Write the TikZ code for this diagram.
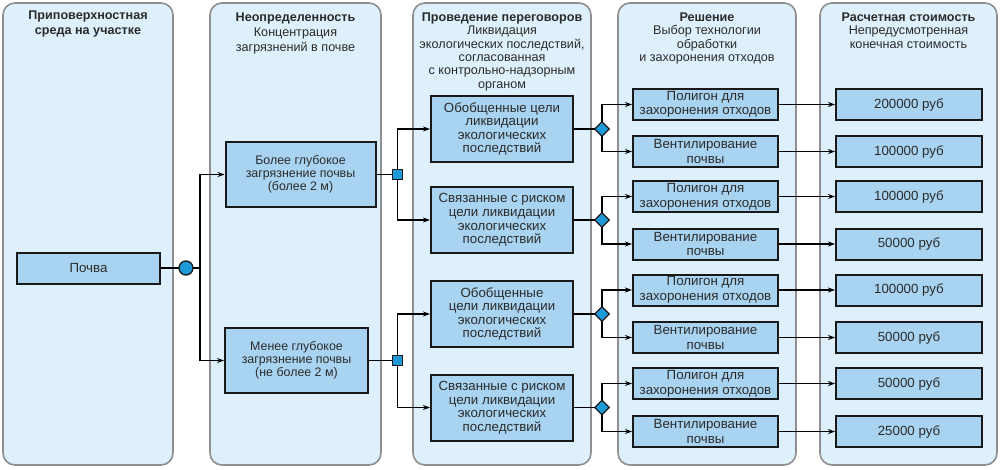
\documentclass[tikz,border=0pt]{standalone}
\usepackage{fontspec}
\setmainfont{Liberation Sans}
\usetikzlibrary{arrows.meta,shapes.geometric}

\definecolor{panelfill}{HTML}{DDF0FB}
\definecolor{panelline}{HTML}{8F8F8F}
\definecolor{boxfill}{HTML}{A9D4F1}
\definecolor{markfill}{HTML}{1E9AD8}
\definecolor{ink}{HTML}{2B2B2B}

\begin{document}
\begin{tikzpicture}[x=1pt, y=-1pt, >={Stealth[length=7pt,width=5pt]}, line width=1.3pt,
    panel/.style={draw=panelline, fill=panelfill, line width=1.6pt, rounded corners=12pt},
    head/.style={anchor=north, align=center, inner sep=0pt, text=ink,
        font=\fontsize{12.6}{13.4}\selectfont},
    box/.style={draw=black!90, fill=boxfill, line width=2pt, align=center, inner sep=0pt,
        text=ink, font=\fontsize{13.3}{13.6}\selectfont},
    depthbox/.style={box, font=\fontsize{12.4}{12.8}\selectfont, minimum height=65pt},
    goalbox/.style={box, minimum width=142pt, minimum height=66pt},
    techbox/.style={box, font=\fontsize{13.3}{14.6}\selectfont, minimum width=145pt, minimum height=31pt},
    costbox/.style={box, minimum width=146pt, minimum height=31pt},
    dot/.style={circle, draw=black!90, fill=markfill, line width=1.3pt, minimum size=14pt, inner sep=0pt},
    sq/.style={rectangle, draw=black!90, fill=markfill, line width=1.3pt, minimum size=10pt, inner sep=0pt},
    diam/.style={diamond, draw=black!90, fill=markfill, line width=1.3pt, minimum size=15pt, inner sep=0pt}]
    \useasboundingbox (0,0) rectangle (1000,469);
    % columns
    \draw[panel] (3,3) rectangle (173,465);
    \draw[panel] (210,3) rectangle (381,465);
    \draw[panel] (413,3) rectangle (591,465);
    \draw[panel] (618,3) rectangle (796,465);
    \draw[panel] (820,3) rectangle (997,465);
    \node[head, font=\fontsize{12.6}{15}\selectfont] (h1) at (88,10) {\textbf{Приповерхностная}\\\textbf{среда на участке}};
    \node[head, font=\fontsize{12.6}{15}\selectfont] (h2) at (295.5,12) {\textbf{Неопределенность}\\Концентрация\\загрязнений в почве};
    \node[head] (h3) at (502,12) {\textbf{Проведение переговоров}\\Ликвидация\\экологических последствий,\\согласованная\\с контрольно-надзорным\\органом};
    \node[head] (h4) at (707,12) {\textbf{Решение}\\Выбор технологии\\обработки\\и захоронения отходов};
    \node[head] (h5) at (908.5,12) {\textbf{Расчетная стоимость}\\Непредусмотренная\\конечная стоимость};

    % boxes
    \node[box, minimum width=143pt, minimum height=31pt] (soil) at (88.5,268) {Почва};
    \node[depthbox, minimum width=150pt] (deep) at (300.5,174.5) {Более глубокое\\загрязнение почвы\\(более 2 м)};
    \node[depthbox, minimum width=143pt] (shallow) at (296.5,360.5) {Менее глубокое\\загрязнение почвы\\(не более 2 м)};
    \node[goalbox] (gA) at (502,129) {Обобщенные цели\\ликвидации\\экологических\\последствий};
    \node[goalbox] (gB) at (502,220) {Связанные с риском\\цели ликвидации\\экологических\\последствий};
    \node[goalbox] (gC) at (502,314) {Обобщенные\\цели ликвидации\\экологических\\последствий};
    \node[goalbox] (gD) at (502,407.5) {Связанные с риском\\цели ликвидации\\экологических\\последствий};
    \foreach \y/\i in {104.5/1, 196.5/3, 290/5, 383.5/7} {
        \node[techbox] (t\i) at (705.5,\y) {Полигон для\\захоронения отходов};
    }
    \foreach \y/\i in {151.5/2, 244/4, 337.5/6, 431.5/8} {
        \node[techbox] (t\i) at (705.5,\y) {Вентилирование\\почвы};
    }
    \foreach \y/\i/\v in {104.5/1/200000, 151.5/2/100000, 196.5/3/100000, 244/4/50000,
                          290/5/100000, 337.5/6/50000, 383.5/7/50000, 431.5/8/25000} {
        \node[costbox] (c\i) at (909,\y) {\v{} руб};
        \draw[->] (t\i) -- (c\i);
    }

    % junctions
    \coordinate (m0) at (186,268);
    \coordinate (b0) at (200,268);
    \coordinate (m1) at (397.5,174.5);
    \coordinate (m2) at (397.5,360.5);
    \coordinate (mA) at (602,129);
    \coordinate (mB) at (602,220);
    \coordinate (mC) at (602,314);
    \coordinate (mD) at (602,407.5);
    \draw (soil) -- (b0);
    \draw[->] (b0) |- (deep);
    \draw[->] (b0) |- (shallow);
    \draw (deep) -- (m1);
    \draw[->] (m1) |- (gA);
    \draw[->] (m1) |- (gB);
    \draw (shallow) -- (m2);
    \draw[->] (m2) |- (gC);
    \draw[->] (m2) |- (gD);
    \draw (gA) -- (mA);
    \draw[->] (mA) |- (t1);
    \draw[->] (mA) |- (t2);
    \draw (gB) -- (mB);
    \draw[->] (mB) |- (t3);
    \draw[->] (mB) |- (t4);
    \draw (gC) -- (mC);
    \draw[->] (mC) |- (t5);
    \draw[->] (mC) |- (t6);
    \draw (gD) -- (mD);
    \draw[->] (mD) |- (t7);
    \draw[->] (mD) |- (t8);
    \node[dot] (k0) at (m0) {};
    \node[sq] (k1) at (m1) {};
    \node[sq] (k2) at (m2) {};
    \node[diam] (kA) at (mA) {};
    \node[diam] (kB) at (mB) {};
    \node[diam] (kC) at (mC) {};
    \node[diam] (kD) at (mD) {};
\end{tikzpicture}
\end{document}
